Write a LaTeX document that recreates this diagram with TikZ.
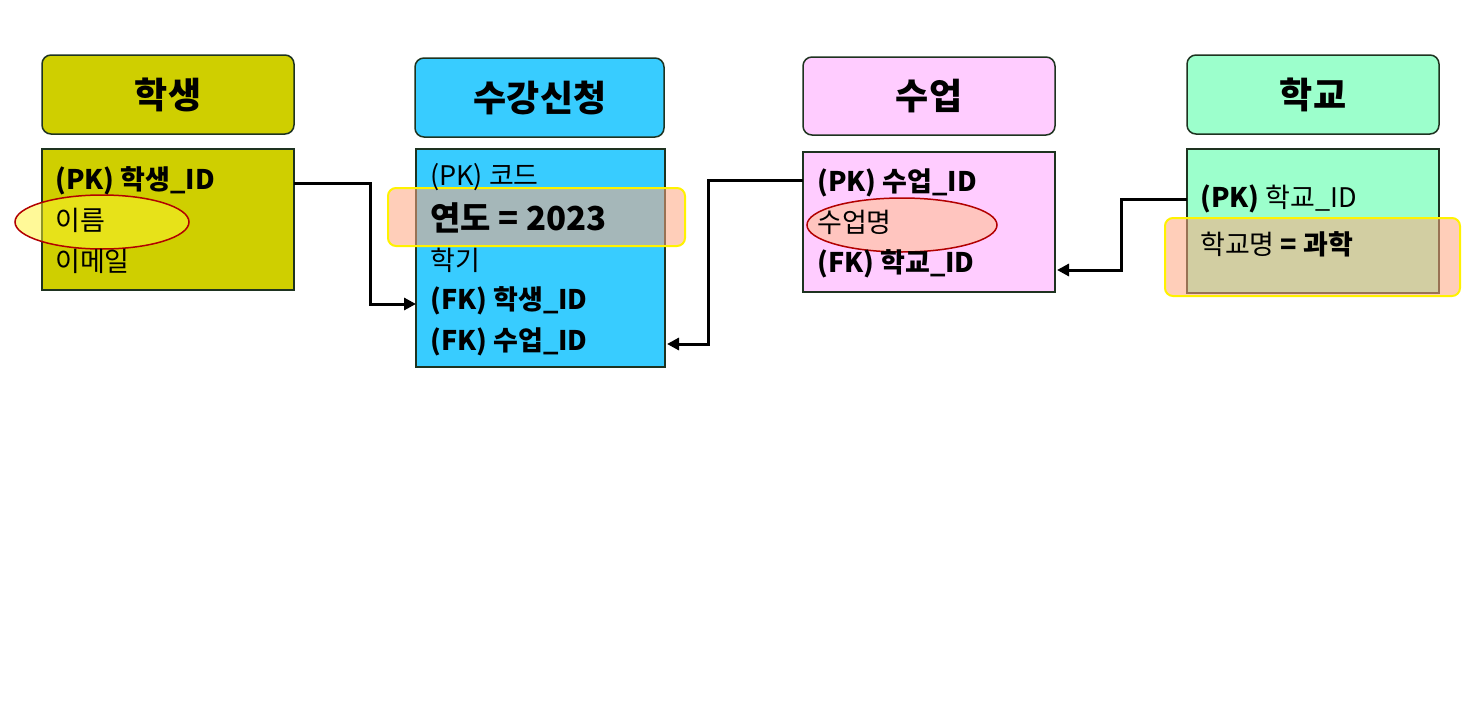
\documentclass[tikz,border=0pt]{standalone}
\usepackage{fontspec}
\setmainfont{Noto Sans CJK KR}
\usetikzlibrary{arrows.meta}
\definecolor{cA}{HTML}{CFCF00}
\definecolor{cB}{HTML}{38CCFF}
\definecolor{cC}{HTML}{FFCCFF}
\definecolor{cD}{HTML}{9CFFCC}
\definecolor{edge}{HTML}{1E3320}
\begin{document}
\begin{tikzpicture}[x=1pt,y=-1pt,
  hdr/.style={draw=edge,line width=1.5pt,rounded corners=9pt},
  body/.style={draw=edge,line width=1.5pt},
  ttl/.style={font=\fontsize{36}{36}\selectfont\bfseries},
  row/.style={anchor=west,font=\fontsize{27}{27}\selectfont,inner sep=0pt},
  conn/.style={line width=3pt,-{Triangle[length=12pt,width=12pt]}},
  ell/.style={draw=red!70!black,line width=1.5pt,fill opacity=0.5},
  hl/.style={draw=yellow,line width=2pt,rounded corners=8pt,fill=orange!60!red!50,fill opacity=0.55}]
\useasboundingbox (0,0) rectangle (1473,720);
\fill[white] (0,0) rectangle (1473,720);
% headers
\draw[hdr,fill=cA] (42,55) rectangle (294,134);
\node[ttl] (h1) at (168,95) {학생};
\draw[hdr,fill=cB] (415,58) rectangle (664,137);
\node[ttl] (h2) at (540,98) {수강신청};
\draw[hdr,fill=cC] (803,57) rectangle (1055,135);
\node[ttl] (h3) at (929,96) {수업};
\draw[hdr,fill=cD] (1187,55) rectangle (1439,134);
\node[ttl] (h4) at (1313,95) {학교};
% bodies
\draw[body,fill=cA] (42,149) rectangle (294,290);
\draw[body,fill=cB] (416,149) rectangle (665,367);
\draw[body,fill=cC] (803,152) rectangle (1055,292);
\draw[body,fill=cD] (1187,149) rectangle (1439,293);
% highlights under text
\draw[ell,fill=yellow!80!white] (102,222) ellipse (87 and 27);
\draw[hl] (388,188) rectangle (685,246);
\draw[ell,fill=orange!50] (902,225) ellipse (95 and 27);
\draw[hl] (1165,218) rectangle (1460,296);
% rows
\node[row] (a1) at (55,181) {\bfseries (PK) 학생\_ID};
\node[row] (a2) at (55,220) {이름};
\node[row] (a3) at (55,261) {이메일};
\node[row] (b1) at (430,177) {(PK) 코드};
\node[row,font=\fontsize{33}{33}\selectfont\bfseries] (b2) at (430,218) {연도 = 2023};
\node[row] (b3) at (430,260) {학기};
\node[row] (b4) at (430,301) {\bfseries (FK) 학생\_ID};
\node[row] (b5) at (430,342) {\bfseries (FK) 수업\_ID};
\node[row] (c1) at (817,183) {\bfseries (PK) 수업\_ID};
\node[row] (c2) at (817,222) {수업명};
\node[row] (c3) at (817,264) {\bfseries (FK) 학교\_ID};
\node[row] (d1) at (1200,199) {\bfseries (PK) \mdseries 학교\_ID};
\node[row] (d2) at (1200,244) {학교명 \bfseries = 과학};
% connectors
\coordinate (s1) at (294,183);
\coordinate (t1) at (416,304);
\draw[conn] (s1) -- (370,183) -- (370,304) -- (t1);
\coordinate (s2) at (803,180);
\coordinate (t2) at (667,344);
\draw[conn] (s2) -- (708,180) -- (708,344) -- (t2);
\coordinate (s3) at (1187,199);
\coordinate (t3) at (1057,270);
\draw[conn] (s3) -- (1121,199) -- (1121,270) -- (t3);
\end{tikzpicture}
\end{document}
